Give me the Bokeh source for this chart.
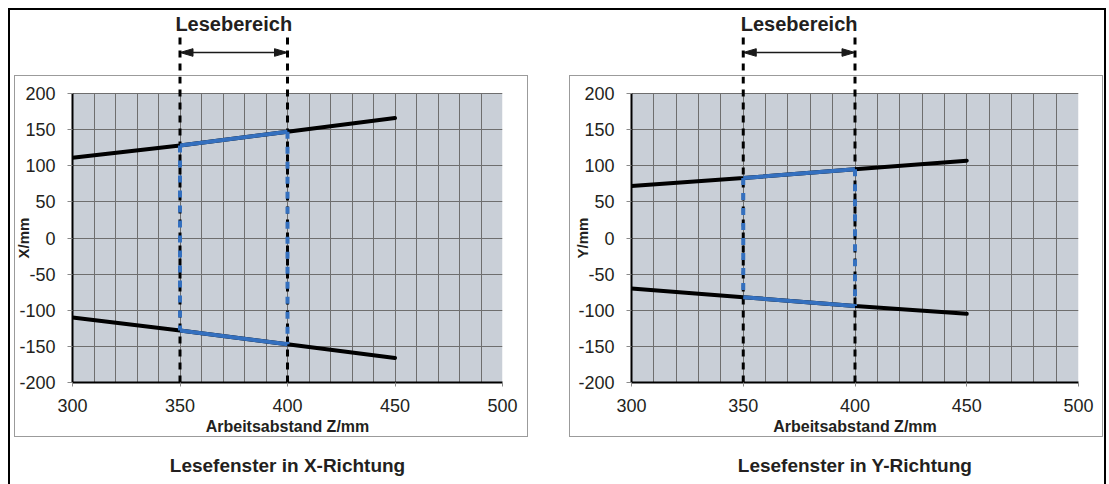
import math
from bokeh.plotting import figure
from bokeh.layouts import row, column
from bokeh.models import (Range1d, FixedTicker, Label, BoxAnnotation, Spacer,
                          CustomJSTickFormatter)
from bokeh.core.properties import value
from bokeh.embed import file_html
from bokeh.resources import INLINE

# ---------------- data ----------------
z_mm = [300, 350, 400, 450]                 # Arbeitsabstand Z/mm
x_upper = [111, 128, 147, 166]              # X-Richtung, obere Grenze
x_lower = [-110, -128, -147, -166]          # X-Richtung, untere Grenze
y_upper = [72, 83, 95, 107]                 # Y-Richtung, obere Grenze
y_lower = [-70, -82, -94, -105]             # Y-Richtung, untere Grenze
lese_z = [350, 400]                         # Lesebereich
x_ticks = [300, 350, 400, 450, 500]
y_ticks = [-200, -150, -100, -50, 0, 50, 100, 150, 200]
grid_z = [300, 310, 320, 330, 340, 350, 360, 370, 380, 390, 400,
          410, 420, 430, 440, 450, 460, 470, 480, 490, 500]
titles = ["Lesefenster in X-Richtung", "Lesefenster in Y-Richtung"]
y_labels = ["X/mm", "Y/mm"]
x_label = "Arbeitsabstand Z/mm"
range_label = "Lesebereich"

# ---------------- style ----------------
FONT = "Liberation Sans"
TXT = "#231f20"
PLOT_BG = "#c9cfd7"
GRID = "#6e6e6e"
BLUE = "#3470bf"
BOX = "#9b9b9b"

X0, X1 = 300, 500
Y0, Y1 = -200, 200

TOP_Y0, TOP_Y1 = 8, 75        # page rows of top strip
PLOT_TOP_OFF = 17             # white strip between box top and plot top
PLOT_H = 289
CHART_BOTTOM = 54
BOT_Y0, BOT_Y1 = 437, 484

plain = CustomJSTickFormatter(code="return String(tick);")


def make_half(upper, lower, ylab, title, half_w, frame_l, frame_w,
              chart_off, chart_w):
    xr = Range1d(X0, X1)
    mid = (lese_z[0] + lese_z[1]) / 2.0
    i0 = z_mm.index(lese_z[0])
    i1 = z_mm.index(lese_z[1])
    px = (X1 - X0) / frame_w          # data units per pixel (x)
    py = (Y1 - Y0) / PLOT_H           # data units per pixel (y)

    # ---- top strip: label, arrow, dashed lines ----
    top = figure(width=half_w, height=TOP_Y1 - TOP_Y0, x_range=xr,
                 y_range=Range1d(TOP_Y1, TOP_Y0),
                 x_axis_type=None, y_axis_type=None, title=None,
                 output_backend="svg", toolbar_location=None,
                 min_border_left=frame_l,
                 min_border_right=half_w - frame_l - frame_w,
                 min_border_top=0, min_border_bottom=0,
                 background_fill_color=None, border_fill_color=None,
                 outline_line_color=None)
    top.add_layout(Label(x=mid, y=23.3, text=range_label, text_align="center",
                         text_baseline="middle", text_font=FONT,
                         text_font_style="bold", text_font_size="20px",
                         text_color=TXT))
    hl = 13 * px
    ya = 52
    top.segment(x0=[lese_z[0] + hl], y0=[ya], x1=[lese_z[1] - hl], y1=[ya],
                line_color="#1a1a1a", line_width=1.4)
    top.patches(xs=[[lese_z[0], lese_z[0] + hl, lese_z[0] + hl],
                    [lese_z[1], lese_z[1] - hl, lese_z[1] - hl]],
                ys=[[ya, ya - 3.8, ya + 3.8], [ya, ya - 3.8, ya + 3.8]],
                fill_color="#1a1a1a", line_color="#1a1a1a", line_width=1)
    top.segment(x0=lese_z, y0=[37, 37], x1=lese_z, y1=[TOP_Y1 + 1, TOP_Y1 + 1],
                line_color="black", line_width=3, line_dash="7 6")

    # ---- chart ----
    y_top = Y1 + PLOT_TOP_OFF * py
    mbl = frame_l - chart_off
    mbr = chart_w - mbl - frame_w
    p = figure(frame_width=frame_w, frame_height=PLOT_TOP_OFF + PLOT_H,
               x_range=xr, y_range=Range1d(Y0, y_top), title=None,
               output_backend="svg", toolbar_location=None,
               min_border_left=mbl, min_border_right=mbr,
               min_border_top=0, min_border_bottom=CHART_BOTTOM,
               background_fill_color="white", border_fill_color="white",
               outline_line_color=None,
               styles={"box-shadow": "0 0 0 1px " + BOX})
    p.add_layout(BoxAnnotation(left=X0, right=X1, bottom=Y0, top=Y1,
                               fill_color=PLOT_BG, fill_alpha=1,
                               line_color=None, level="image"))
    p.xgrid.ticker = FixedTicker(ticks=grid_z)
    p.ygrid.ticker = FixedTicker(ticks=y_ticks)
    for g in (p.xgrid, p.ygrid):
        g.grid_line_color = GRID
        g.grid_line_width = 1
        g.grid_line_alpha = 1
    try:
        p.xgrid.cross_bounds = (Y0, Y1)
    except Exception:
        p.xgrid.visible = False
        p.segment(x0=grid_z, y0=[Y0] * len(grid_z), x1=grid_z,
                  y1=[Y1] * len(grid_z), line_color=GRID, line_width=1,
                  level="underlay")

    p.xaxis.ticker = FixedTicker(ticks=x_ticks)
    p.yaxis.ticker = FixedTicker(ticks=y_ticks)
    p.yaxis.bounds = (Y0, Y1)
    for ax in (p.xaxis, p.yaxis):
        ax.formatter = plain
        ax.axis_line_color = "black"
        ax.axis_line_width = 2
        ax.major_tick_line_color = "#8a8a8a"
        ax.major_tick_line_width = 1
        ax.major_tick_in = 0
        ax.minor_tick_in = 0
        ax.minor_tick_out = 0
        ax.major_label_text_font = FONT
        ax.major_label_text_font_size = "18px"
        ax.major_label_text_color = TXT
    p.xaxis.major_tick_out = 4
    p.xaxis.major_label_standoff = 12
    p.yaxis.major_tick_out = 5
    p.yaxis.major_label_standoff = 12

    # axis titles (drawn as overlay text so they may sit outside the frame)
    p.text(x=[X0 - 49 * px], y=[0], text=[ylab], angle=math.pi / 2,
           text_align="center", text_baseline="middle",
           text_font=value(FONT), text_font_style="bold",
           text_font_size="15px", text_color=TXT, level="overlay")
    p.text(x=[(X0 + X1) / 2.0], y=[Y0 - 43.5 * py], text=[x_label],
           text_align="center", text_baseline="middle",
           text_font=value(FONT), text_font_style="bold",
           text_font_size="16px", text_color=TXT, level="overlay")

    # dashed reading-range lines (black)
    p.segment(x0=lese_z, y0=[y_top, y_top], x1=lese_z, y1=[Y0, Y0],
              line_color="black", line_width=3, line_dash="7 6")
    # boundary lines
    p.line(z_mm, upper, line_color="black", line_width=4, line_cap="round")
    p.line(z_mm, lower, line_color="black", line_width=4, line_cap="round")
    # reading window (blue)
    p.line(z_mm[i0:i1 + 1], upper[i0:i1 + 1], line_color=BLUE, line_width=4)
    p.line(z_mm[i0:i1 + 1], lower[i0:i1 + 1], line_color=BLUE, line_width=4)
    p.segment(x0=lese_z, y0=[upper[i0], upper[i1]], x1=lese_z,
              y1=[lower[i0], lower[i1]], line_color=BLUE, line_width=4,
              line_dash="7 8")

    # ---- bottom title ----
    bot = figure(width=half_w, height=BOT_Y1 - BOT_Y0, x_range=xr,
                 y_range=Range1d(BOT_Y1, BOT_Y0),
                 x_axis_type=None, y_axis_type=None, title=None,
                 output_backend="svg", toolbar_location=None,
                 min_border_left=frame_l,
                 min_border_right=half_w - frame_l - frame_w,
                 min_border_top=0, min_border_bottom=0,
                 background_fill_color=None, border_fill_color=None,
                 outline_line_color=None)
    bot.add_layout(Label(x=(X0 + X1) / 2.0, y=465, text=title,
                         text_align="center", text_baseline="middle",
                         text_font=FONT, text_font_style="bold",
                         text_font_size="19px", text_color=TXT))
    return column(top, Spacer(width=10, height=1),
                  row(Spacer(width=chart_off, height=10), p),
                  Spacer(width=10, height=1), bot)


left = make_half(x_upper, x_lower, y_labels[0], titles[0],
                 half_w=540, frame_l=64, frame_w=430, chart_off=7,
                 chart_w=512)
right = make_half(y_upper, y_lower, y_labels[1], titles[1],
                  half_w=558, frame_l=83, frame_w=447, chart_off=22,
                  chart_w=532)

framed = row(left, right, width=1098, height=476,
             styles={"box-shadow": "inset 2px 2px 0 0 #000, inset -2px 0 0 0 #000"})
page = column(Spacer(width=10, height=8), row(Spacer(width=8, height=10), framed))

open("out.html", "w").write(file_html(page, INLINE))
